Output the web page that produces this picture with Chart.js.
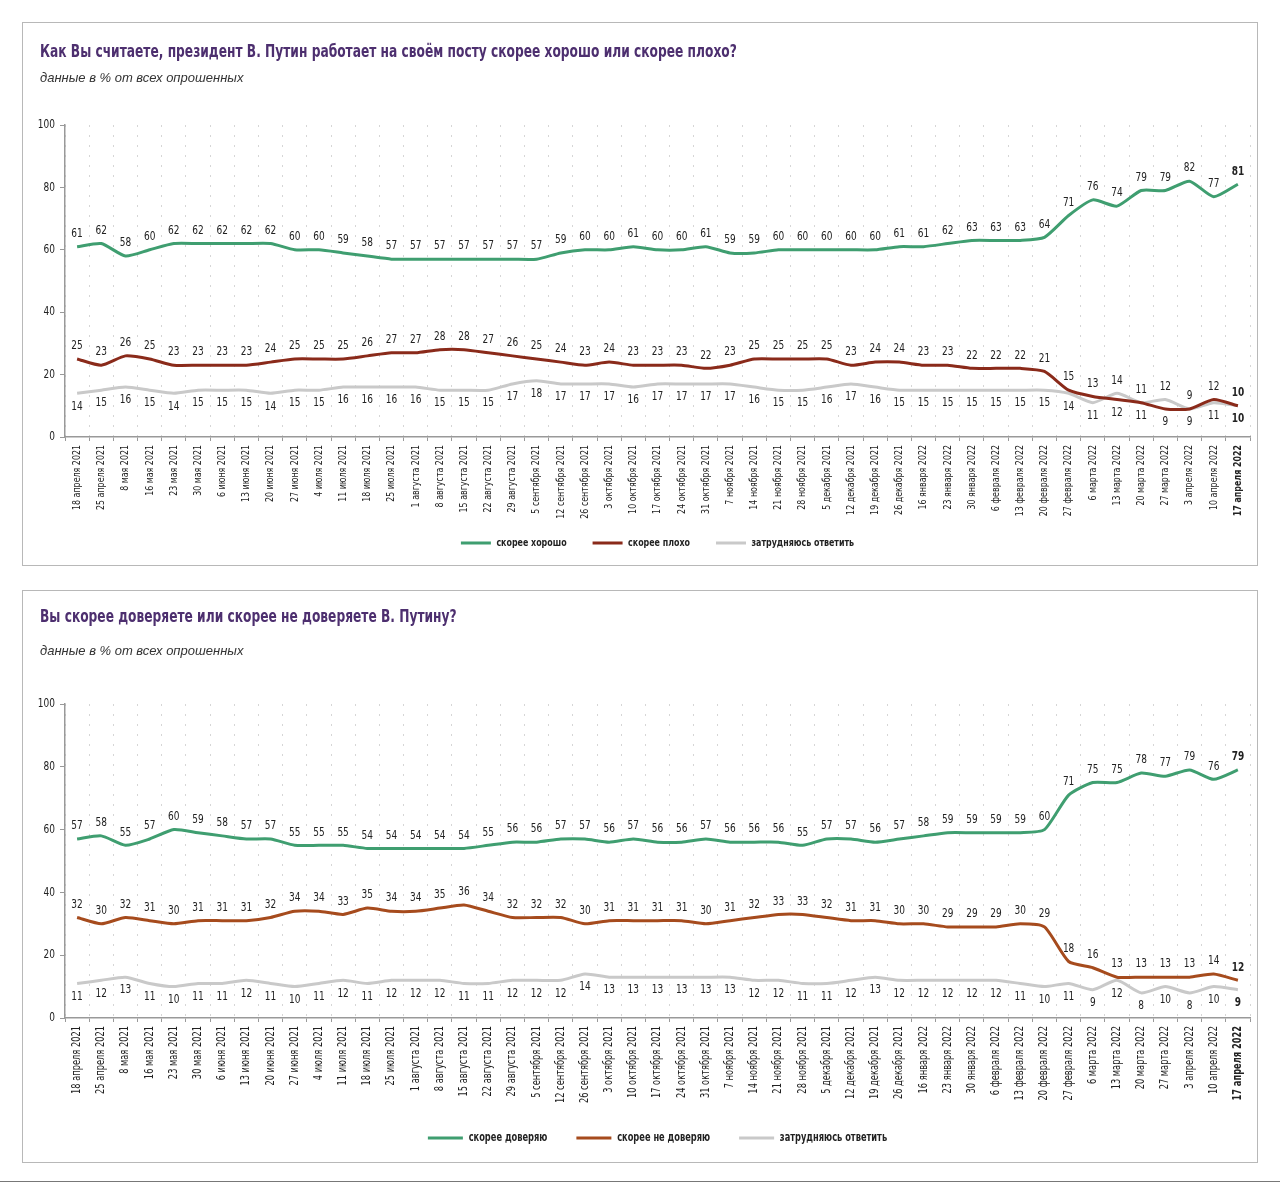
<!DOCTYPE html>
<html><head><meta charset="utf-8">
<script src="https://cdn.jsdelivr.net/npm/chart.js@4.4.1/dist/chart.umd.min.js"></script>
<style>
html,body{margin:0;padding:0;background:#fff;}
body{width:1280px;height:1185px;position:relative;overflow:hidden;}
.panel{position:absolute;left:22px;width:1236px;border:1px solid #b8b8b8;box-sizing:border-box;background:#fff;}
.wrap{position:absolute;left:22px;width:1236px;}
</style></head><body>
<div class="panel" style="top:22px;height:544px"></div>
<div class="wrap" style="top:22px;height:544px"><canvas id="c1"></canvas></div>
<div class="panel" style="top:590px;height:573px"></div>
<div class="wrap" style="top:590px;height:573px"><canvas id="c2"></canvas></div>
<div style="position:absolute;left:0;top:1181px;width:1280px;height:1px;background:#777"></div>
<script>
const dates = ['18 апреля 2021','25 апреля 2021','8 мая 2021','16 мая 2021','23 мая 2021','30 мая 2021','6 июня 2021','13 июня 2021','20 июня 2021','27 июня 2021','4 июля 2021','11 июля 2021','18 июля 2021','25 июля 2021','1 августа 2021','8 августа 2021','15 августа 2021','22 августа 2021','29 августа 2021','5 сентября 2021','12 сентября 2021','26 сентября 2021','3 октября 2021','10 октября 2021','17 октября 2021','24 октября 2021','31 октября 2021','7 ноября 2021','14 ноября 2021','21 ноября 2021','28 ноября 2021','5 декабря 2021','12 декабря 2021','19 декабря 2021','26 декабря 2021','16 января 2022','23 января 2022','30 января 2022','6 февраля 2022','13 февраля 2022','20 февраля 2022','27 февраля 2022','6 марта 2022','13 марта 2022','20 марта 2022','27 марта 2022','3 апреля 2022','10 апреля 2022','17 апреля 2022'];

const workGood = [61,62,58,60,62,62,62,62,62,60, 60,59,58,57,57,57,57,57,57,57, 59,60,60,61,60,60,61,59,59,60, 60,60,60,60,61,61,62,63,63,63, 64,71,76,74,79,79,82,77,81];
const workBad  = [25,23,26,25,23,23,23,23,24,25, 25,25,26,27,27,28,28,27,26,25, 24,23,24,23,23,23,22,23,25,25, 25,25,23,24,24,23,23,22,22,22, 21,15,13,12,11,9,9,12,10];
const workHard = [14,15,16,15,14,15,15,15,14,15, 15,16,16,16,16,15,15,15,17,18, 17,17,17,16,17,17,17,17,16,15, 15,16,17,16,15,15,15,15,15,15, 15,14,11,14,11,12,9,11,10];

const trustYes  = [57,58,55,57,60,59,58,57,57,55, 55,55,54,54,54,54,54,55,56,56, 57,57,56,57,56,56,57,56,56,56, 55,57,57,56,57,58,59,59,59,59, 60,71,75,75,78,77,79,76,79];
const trustNo   = [32,30,32,31,30,31,31,31,32,34, 34,33,35,34,34,35,36,34,32,32, 32,30,31,31,31,31,30,31,32,33, 33,32,31,31,30,30,29,29,29,30, 29,18,16,13,13,13,13,14,12];
const trustHard = [11,12,13,11,10,11,11,12,11,10, 11,12,11,12,12,12,11,11,12,12, 12,14,13,13,13,13,13,13,12,12, 11,11,12,13,12,12,12,12,12,11, 10,11,9,12,8,10,8,10,9];

const yTicks = [0,20,40,60,80,100];

const COND = 'DejaVu Sans Condensed';
const NARROW = "'DejaVu Sans Condensed', sans-serif";
const SQUEEZE = 0.8;
const GREEN = '#3f9e70';
const GREY = '#c9c9c9';

// emulate a condensed face: squeeze text drawn in the condensed family horizontally
function squeezedContext(canvas) {
  const ctx = canvas.getContext('2d');
  const P = CanvasRenderingContext2D.prototype;
  ctx.measureText = function (t) {
    const m = P.measureText.call(this, t);
    if (!this.font.includes(COND)) return m;
    return {
      width: m.width * SQUEEZE,
      actualBoundingBoxAscent: m.actualBoundingBoxAscent,
      actualBoundingBoxDescent: m.actualBoundingBoxDescent,
      actualBoundingBoxLeft: m.actualBoundingBoxLeft * SQUEEZE,
      actualBoundingBoxRight: m.actualBoundingBoxRight * SQUEEZE,
      fontBoundingBoxAscent: m.fontBoundingBoxAscent,
      fontBoundingBoxDescent: m.fontBoundingBoxDescent
    };
  };
  ctx.fillText = function (t, x, y, mw) {
    if (this.font.includes(COND)) {
      const w = P.measureText.call(this, t).width * SQUEEZE;
      return P.fillText.call(this, t, x, y, mw === undefined ? w : Math.min(mw, w));
    }
    return mw === undefined ? P.fillText.call(this, t, x, y) : P.fillText.call(this, t, x, y, mw);
  };
  return ctx;
}

const valueLabels = {
  id: 'valueLabels',
  afterDatasetsDraw(chart) {
    const ctx = chart.ctx;
    const ds = chart.data.datasets;
    const n = chart.data.labels.length;
    const off = 13;
    ctx.save();
    ctx.textAlign = 'center';
    ctx.textBaseline = 'middle';
    ctx.fillStyle = '#222';
    const put = (di, j, dir) => {
      const p = chart.getDatasetMeta(di).data[j];
      ctx.fillText(String(ds[di].data[j]), p.x, p.y + dir * off);
    };
    for (let j = 0; j < n; j++) {
      ctx.font = (j === n - 1 ? 'bold ' : '') + '12.5px ' + NARROW;
      put(0, j, -1);
      const redAbove = ds[1].data[j] >= ds[2].data[j];
      put(1, j, redAbove ? -1 : 1);
      put(2, j, redAbove ? 1 : -1);
    }
    ctx.restore();
  }
};

const layoutTweaks = {
  id: 'layoutTweaks',
  afterLayout(chart, args, opts) {
    chart.boxes.forEach(b => {
      if (b.position === 'top' && b.options && typeof b.options.text === 'string') {
        b.left += opts.titleShift; b.right += opts.titleShift;
      }
    });
    const lg = chart.legend;
    if (lg) {
      const pad = lg.options.labels.padding;
      const fs = lg.options.labels.font.size;
      const target = chart.chartArea.bottom + opts.legendOffset;
      const d = target - (lg.top + pad + fs / 2);
      lg.top += d; lg.bottom += d;
    }
  }
};

function makeChart(id, cfg) {
  const last = dates.length - 1;
  return new Chart(squeezedContext(document.getElementById(id)), {
    type: 'line',
    data: {
      labels: dates,
      datasets: cfg.series.map(s => ({
        label: s.name, data: s.values, borderColor: s.color, backgroundColor: s.color,
        borderWidth: 3, pointRadius: 0, tension: 0.2, fill: false
      }))
    },
    options: {
      responsive: true, maintainAspectRatio: false, animation: false,
      layout: { padding: { left: 8, right: 8, top: 0, bottom: cfg.padBottom } },
      plugins: {
        layoutTweaks: { titleShift: 10, legendOffset: cfg.legendOffset },
        title: { display: true, text: cfg.title, align: 'start', color: '#4d2f6f',
          font: { family: NARROW, size: 17, weight: 'bold' }, padding: { top: cfg.titleTop, bottom: cfg.titleBottom } },
        subtitle: { display: true, text: 'данные в % от всех опрошенных', align: 'start', color: '#333',
          font: { family: "'Liberation Sans', sans-serif", size: 13, style: 'italic' }, padding: { top: 0, bottom: cfg.subBottom } },
        legend: { position: 'bottom', fullSize: false,
          labels: { boxWidth: cfg.legendBox, boxHeight: 3, padding: cfg.legendPad, color: '#222',
            font: { family: NARROW, size: cfg.legendFont, weight: 'bold' },
            generateLabels(chart) {
              const items = Chart.defaults.plugins.legend.labels.generateLabels(chart);
              items.forEach(it => { it.lineWidth = 0; it.fillStyle = it.strokeStyle; });
              return items;
            } } },
        tooltip: { enabled: false }
      },
      scales: {
        x: {
          offset: true,
          afterFit(s) { s.height = cfg.xHeight; },
          grid: { offset: true, color: '#d6d6d6', lineWidth: 1, drawTicks: true, tickLength: 4, tickColor: '#999' },
          border: { display: true, color: '#999', width: 1.5, dash: [2, 8] },
          ticks: { autoSkip: false, maxRotation: 90, minRotation: 90, padding: 4, color: '#222',
            font: (c) => ({ family: NARROW, size: cfg.xFont, weight: c.index === last ? 'bold' : 'normal' }) }
        },
        y: {
          min: 0, max: 100,
          afterFit(s) { s.width = 35; },
          afterBuildTicks(s) { s.ticks = yTicks.map(v => ({ value: v })); },
          grid: { drawOnChartArea: false, drawTicks: true, tickLength: 5, color: '#999' },
          border: { display: true, color: '#999', width: 1.5 },
          ticks: { padding: 5, color: '#222', font: { family: NARROW, size: 12.5 } }
        }
      }
    },
    plugins: [valueLabels, layoutTweaks]
  });
}

makeChart('c1', {
  title: 'Как Вы считаете, президент В. Путин работает на своём посту скорее хорошо или скорее плохо?',
  titleTop: 20, titleBottom: 8, subBottom: 39, padBottom: -2, xHeight: 84, xFont: 11, legendOffset: 106,
  legendBox: 30, legendPad: 26, legendFont: 11,
  series: [
    { name: 'скорее хорошо', values: workGood, color: GREEN },
    { name: 'скорее плохо', values: workBad, color: '#8a2a1a' },
    { name: 'затрудняюсь ответить', values: workHard, color: GREY }
  ]
});

makeChart('c2', {
  title: 'Вы скорее доверяете или скорее не доверяете В. Путину?',
  titleTop: 17, titleBottom: 15.8, subBottom: 45.2, padBottom: -0.5, xHeight: 95, xFont: 11.5, legendOffset: 120,
  legendBox: 35, legendPad: 29, legendFont: 11.5,
  series: [
    { name: 'скорее доверяю', values: trustYes, color: GREEN },
    { name: 'скорее не доверяю', values: trustNo, color: '#a64b1d' },
    { name: 'затрудняюсь ответить', values: trustHard, color: GREY }
  ]
});
</script>
</body></html>
